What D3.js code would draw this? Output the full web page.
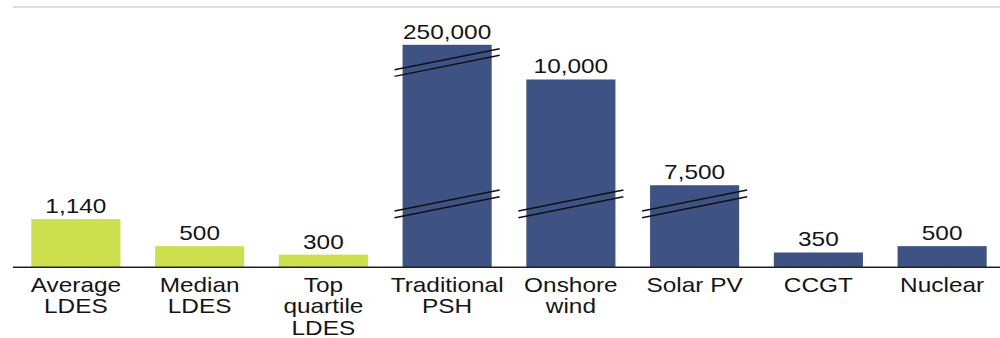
<!DOCTYPE html>
<html>
<head>
<meta charset="utf-8">
<script src="https://cdn.jsdelivr.net/npm/d3@7"></script>
<style>
  html, body { margin: 0; padding: 0; background: #fff; }
  svg { display: block; }
  text { font-family: "Liberation Sans", Arial, sans-serif; fill: #151515; }
</style>
</head>
<body>
<svg id="chart" width="1000" height="338"></svg>
<script>
// Cost per unit, by technology
const categories = [
  ["Average", "LDES"],
  ["Median", "LDES"],
  ["Top", "quartile", "LDES"],
  ["Traditional", "PSH"],
  ["Onshore", "wind"],
  ["Solar PV"],
  ["CCGT"],
  ["Nuclear"]
];
const values = [1140, 500, 300, 250000, 10000, 7500, 350, 500];
const groups = ["ldes", "ldes", "ldes", "ref", "ref", "ref", "ref", "ref"];
const valueLabels = ["1,140", "500", "300", "250,000", "10,000", "7,500", "350", "500"];

// Value axis is broken twice: each gap [breakFrom[i], breakTo[i]] is skipped
const breakFrom = [1500, 10400];
const breakTo = [7060, 249580];
const axisMax = 260000;

const colors = { ldes: "#cce04e", ref: "#3e5283" };

const svg = d3.select("#chart");
const W = 1000;
const baseY = 267.3;
const pxPerUnit = 0.0423;
const stretch = 1.22;

const x = d3.scaleBand()
  .domain(d3.range(categories.length))
  .range([14, 1004])
  .paddingInner(0.28)
  .paddingOuter(0.14);

// Piecewise-linear scale: equal slope on every segment, zero height across gaps
const yDomain = [0];
const yRange = [baseY];
let h = 0, prev = 0;
breakFrom.forEach((b, i) => {
  h += (b - prev) * pxPerUnit;
  yDomain.push(b, breakTo[i]);
  yRange.push(baseY - h, baseY - h);
  prev = breakTo[i];
});
h += (axisMax - prev) * pxPerUnit;
yDomain.push(axisMax);
yRange.push(baseY - h);
const y = d3.scaleLinear().domain(yDomain).range(yRange);

// top rule
svg.append("line")
  .attr("x1", 13).attr("x2", W)
  .attr("y1", 7).attr("y2", 7)
  .attr("stroke", "#b3c2b3").attr("stroke-width", 1.2);

// bars
svg.append("g").selectAll("rect")
  .data(values)
  .join("rect")
  .attr("x", (d, i) => x(i))
  .attr("width", x.bandwidth())
  .attr("y", d => y(d))
  .attr("height", d => baseY - y(d))
  .attr("fill", (d, i) => colors[groups[i]]);

// break marks across bars that span a gap
const breakG = svg.append("g");
values.forEach((v, i) => {
  breakFrom.forEach((b, k) => {
    if (v <= breakTo[k]) return;
    const cy = y(b);
    const cx = x(i) + x.bandwidth() / 2;
    const half = x.bandwidth() / 2 + 8;
    const slope = 0.2;
    [-3.3, 3.3].forEach(off => {
      breakG.append("line")
        .attr("x1", cx - half).attr("y1", cy + off + half * slope)
        .attr("x2", cx + half).attr("y2", cy + off - half * slope)
        .attr("stroke", "#111").attr("stroke-width", 1.5);
    });
  });
});

// baseline
svg.append("line")
  .attr("x1", 13).attr("x2", W)
  .attr("y1", baseY).attr("y2", baseY)
  .attr("stroke", "#222").attr("stroke-width", 1.6);

// value labels
svg.append("g").selectAll("text")
  .data(values)
  .join("text")
  .attr("transform", (d, i) =>
    `translate(${x(i) + x.bandwidth() / 2},${y(d) - 6}) scale(${stretch},1)`)
  .attr("text-anchor", "middle")
  .style("font-size", "20px")
  .text((d, i) => valueLabels[i]);

// category labels
const catG = svg.append("g").selectAll("g")
  .data(categories)
  .join("g")
  .attr("transform", (d, i) => `translate(${x(i) + x.bandwidth() / 2},${baseY + 25})`);
catG.selectAll("text")
  .data(d => d)
  .join("text")
  .attr("transform", (d, j) => `translate(0,${j * 21.1}) scale(${stretch},1)`)
  .attr("text-anchor", "middle")
  .style("font-size", "20px")
  .text(d => d);
</script>
</body>
</html>
